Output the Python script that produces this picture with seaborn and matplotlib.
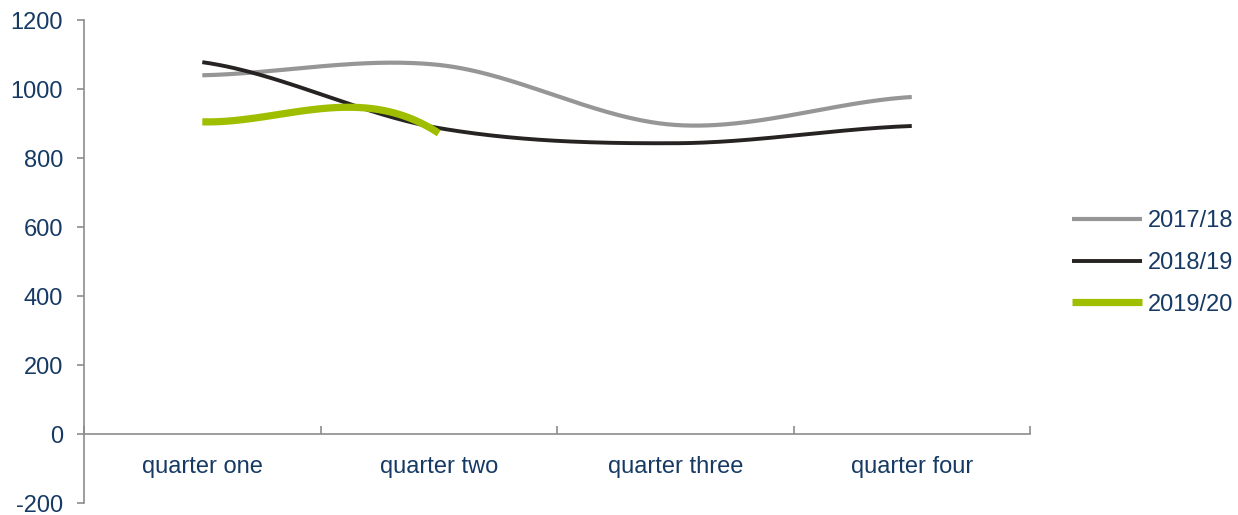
import numpy as np
import pandas as pd
import matplotlib
matplotlib.use("Agg")
import matplotlib.pyplot as plt
import seaborn as sns

categories = ["quarter one", "quarter two", "quarter three", "quarter four"]
series_names = ["2017/18", "2018/19", "2019/20"]
values_1718 = [1040, 1070, 896, 977]
values_1819 = [1078, 887, 843, 893]
values_1920 = [905, 872, np.nan, np.nan]
y_ticks = [-200, 0, 200, 400, 600, 800, 1000, 1200]

colors = ["#969696", "#262322", "#A0BE00"]
widths = [3.0, 2.8, 5.2]
text_color = "#163A64"
axis_color = "#8C8C8C"


def excel_smooth(vals, n=60):
    """Excel-style smoothed line (Catmull-Rom Bezier, tension 1/6).
    Empty cells count as zero for the tangent, but are not drawn."""
    v = np.array(vals, dtype=float)
    tang_src = np.nan_to_num(v, nan=0.0)
    valid = np.where(~np.isnan(v))[0]
    last = valid[-1]
    xs, ys = [], []
    for i in range(last):
        p0, p1 = v[i], v[i + 1]
        prev = tang_src[i - 1] if i - 1 >= 0 else tang_src[i]
        nxt = tang_src[i + 2] if i + 2 < len(v) else tang_src[i + 1]
        m0 = (tang_src[i + 1] - prev) / 2.0
        m1 = (nxt - tang_src[i]) / 2.0
        t = np.linspace(0, 1, n)
        h00 = 2 * t**3 - 3 * t**2 + 1
        h10 = t**3 - 2 * t**2 + t
        h01 = -2 * t**3 + 3 * t**2
        h11 = t**3 - t**2
        xs.append(i + t)
        ys.append(h00 * p0 + h10 * m0 + h01 * p1 + h11 * m1)
    return np.concatenate(xs), np.concatenate(ys)


sns.set_theme(style="white")
plt.rcParams["font.family"] = ["Liberation Sans", "DejaVu Sans"]

fig = plt.figure(figsize=(12.38, 5.15), dpi=100)
ax = fig.add_axes([0.0679, 0.0233, 0.832 - 0.0679, 0.961 - 0.0233])

all_vals = [values_1718, values_1819, values_1920]
for name, vals, c, w in zip(series_names, all_vals, colors, widths):
    xs, ys = excel_smooth(vals)
    df = pd.DataFrame({"x": xs, "y": ys})
    sns.lineplot(data=df, x="x", y="y", ax=ax, color=c, linewidth=w,
                 label=name, sort=False, solid_capstyle="butt")

ax.set_xlim(-0.5, len(categories) - 0.5)
ax.set_ylim(min(y_ticks), max(y_ticks))
ax.set_yticks(y_ticks)
ax.set_yticklabels([str(t) for t in y_ticks])
ax.set_xticks(range(len(categories)))
ax.set_xticklabels(categories)
ax.set_xticks(np.arange(-0.5, len(categories), 1.0), minor=True)
ax.set_xlabel("")
ax.set_ylabel("")

for s in ["top", "right"]:
    ax.spines[s].set_visible(False)
ax.spines["bottom"].set_position(("data", 0))
ax.spines["bottom"].set_color(axis_color)
ax.spines["left"].set_color(axis_color)
ax.spines["bottom"].set_linewidth(1.2)
ax.spines["left"].set_linewidth(1.2)

ax.tick_params(axis="y", which="major", direction="out", length=5, width=1.2,
               color=axis_color, labelcolor=text_color, labelsize=17, pad=10, left=True)
ax.tick_params(axis="x", which="major", length=0, labelcolor=text_color,
               labelsize=17, pad=16)
ax.tick_params(axis="x", which="minor", direction="in", length=6, width=1.2,
               color=axis_color, bottom=True)

leg = ax.legend(loc="center left", bbox_to_anchor=(1.0445, 0.497), frameon=False,
                fontsize=17, handlelength=2.97, handletextpad=0.25,
                labelspacing=0.83, borderpad=0, borderaxespad=0)
for t in leg.get_texts():
    t.set_color(text_color)

fig.savefig("out.png", dpi=100)
